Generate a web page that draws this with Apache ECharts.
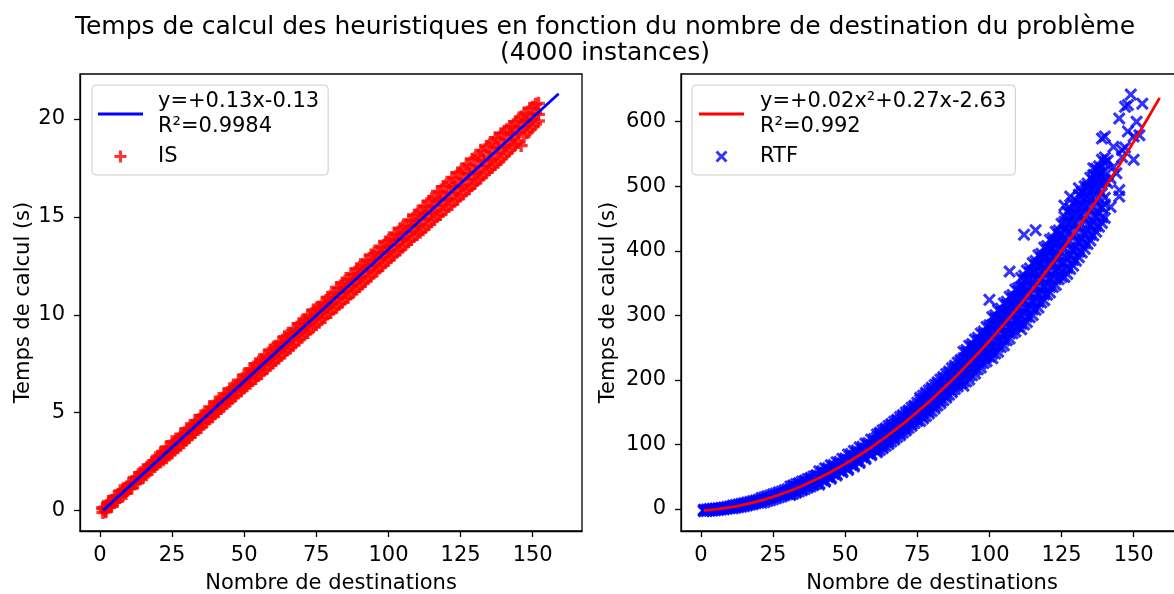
<!DOCTYPE html>
<html><head><meta charset="utf-8">
<script src="https://cdn.jsdelivr.net/npm/echarts@6/dist/echarts.min.js"></script>
<style>html,body{margin:0;padding:0;background:#fff}#c{width:1174px;height:594px}</style>
</head><body><div id="c"></div>
<script>
// ---- tick labels ----
const xTicks = [0, 25, 50, 75, 100, 125, 150];
const isYTicks = [0, 5, 10, 15, 20];
const rtfYTicks = [0, 100, 200, 300, 400, 500, 600];

// ---- number of destinations (x) ----
const nDest = [1,2,3,4,5,6,7,8,9,10,11,12,13,14,15,16,17,18,19,20,21,22,23,24,25,26,27,28,29,30,
31,32,33,34,35,36,37,38,39,40,41,42,43,44,45,46,47,48,49,50,51,52,53,54,55,56,57,58,59,60,
61,62,63,64,65,66,67,68,69,70,71,72,73,74,75,76,77,78,79,80,81,82,83,84,85,86,87,88,89,90,
91,92,93,94,95,96,97,98,99,100,101,102,103,104,105,106,107,108,109,110,111,112,113,114,115,116,117,118,119,120,
121,122,123,124,125,126,127,128,129,130,131,132,133,134,135,136,137,138,139,140,141,142,143,144,145,146,147,148,149,150,151,152];

// ---- IS computation times (s), upper / lower / middle of the cloud ----
const isUpper = [0.15,0.19,0.47,0.51,0.72,0.76,1.01,1.07,1.13,1.39,
1.46,1.69,1.70,1.93,2.09,2.12,2.31,2.47,2.55,2.78,
2.95,2.98,3.25,3.21,3.52,3.55,3.63,3.91,3.90,4.18,
4.22,4.35,4.61,4.58,4.85,4.90,5.02,5.30,5.25,5.55,
5.58,5.68,5.97,5.95,6.22,6.28,6.35,6.66,6.62,6.93,
6.98,7.25,7.22,7.50,7.58,7.70,7.95,7.90,8.20,8.28,
8.40,8.60,8.58,8.88,8.95,9.05,9.30,9.25,9.55,9.62,
9.75,9.98,9.92,10.25,10.30,10.40,10.62,10.60,10.90,10.98,
11.10,11.40,11.35,11.62,11.72,11.82,12.10,12.05,12.35,12.42,
12.55,12.80,12.75,13.05,13.12,13.22,13.50,13.42,13.72,13.80,
13.90,14.18,14.10,14.40,14.48,14.58,14.85,14.80,15.08,15.15,
15.30,15.55,15.50,15.80,15.92,16.02,16.30,16.25,16.55,16.62,
16.75,17.02,16.95,17.25,17.30,17.45,17.70,17.62,17.95,18.00,
18.12,18.40,18.32,18.60,18.68,18.80,19.05,18.98,19.25,19.32,
19.45,19.62,19.60,19.85,19.95,20.10,20.30,20.25,20.55,20.60,
20.75,20.80];
const isLower = [-0.10,-0.06,0.22,0.23,0.42,0.48,0.73,0.80,0.88,1.12,
1.15,1.37,1.42,1.64,1.71,1.83,2.04,2.11,2.25,2.42,
2.50,2.60,2.70,2.85,2.96,3.10,3.22,3.35,3.48,3.62,
3.75,3.90,4.00,4.16,4.25,4.43,4.55,4.70,4.80,4.97,
5.06,5.22,5.36,5.48,5.60,5.76,5.88,6.02,6.12,6.28,
6.40,6.50,6.66,6.75,6.92,7.00,7.18,7.28,7.42,7.55,
7.68,7.80,7.94,8.05,8.22,8.32,8.45,8.62,8.72,8.85,
9.02,9.10,9.28,9.40,9.50,9.62,9.80,9.88,10.05,10.12,
10.30,10.40,10.55,10.65,10.82,10.90,11.08,11.20,11.32,11.45,
11.60,11.72,11.88,11.98,12.15,12.25,12.42,12.52,12.68,12.80,
12.95,13.05,13.22,13.32,13.48,13.60,13.75,13.85,14.02,14.12,
14.22,14.35,14.50,14.62,14.78,14.88,15.05,15.12,15.30,15.40,
15.55,15.65,15.82,15.92,16.08,16.18,16.35,16.45,16.62,16.72,
16.90,17.00,17.15,17.28,17.42,17.55,17.68,17.80,17.95,18.10,
18.25,18.40,18.55,18.70,18.82,18.65,19.10,19.30,19.45,19.60,
19.75,19.90];
const isMid = [0.10,-0.01,0.37,0.36,0.44,0.73,0.71,1.05,1.03,1.17,
1.40,1.39,1.72,1.71,1.84,2.08,2.11,2.39,2.38,2.51,
2.80,2.73,3.02,3.05,3.14,3.47,3.41,3.74,3.73,3.81,
4.15,4.08,4.42,4.40,4.48,4.82,4.75,5.09,5.07,5.16,
5.49,5.43,5.76,5.75,5.83,6.17,6.10,6.44,6.42,6.51,
6.84,6.77,7.11,7.09,7.18,7.51,7.45,7.78,7.77,7.85,
8.19,8.12,8.46,8.44,8.53,8.86,8.79,9.13,9.11,9.20,
9.53,9.47,9.80,9.79,9.87,10.21,10.14,10.48,10.46,10.55,
10.88,10.82,11.15,11.13,11.22,11.55,11.49,11.82,11.81,11.89,
12.23,12.16,12.50,12.48,12.57,12.90,12.84,13.17,13.16,13.24,
13.57,13.51,13.84,13.83,13.91,14.25,14.18,14.52,14.50,14.59,
14.92,14.86,15.19,15.18,15.26,15.60,15.53,15.86,15.85,15.93,
16.27,16.20,16.54,16.52,16.61,16.94,16.88,17.21,17.20,17.28,
17.62,17.55,17.89,17.87,17.95,18.29,18.22,18.56,18.54,18.63,
18.96,18.90,19.23,19.22,19.30,19.64,19.57,19.91,19.89,19.98,
20.31,20.24];

// ---- IS linear fit ----
const isFitX = [1, 159];
const isFitY = [0.00, 21.29];

// ---- RTF computation times (s), x = 1..140 ----
const rtfUpper = [-1.0,-0.8,-0.2,0.3,0.6,1.2,1.7,2.5,3.0,3.9,
5.4,6.2,6.9,8.0,8.9,10.0,10.9,12.2,13.2,14.5,
17.1,18.2,19.9,21.0,22.7,24.0,25.8,27.1,29.0,30.5,
35.0,36.2,38.6,39.8,42.4,43.8,46.3,47.9,50.5,52.2,
58.5,55.8,63.0,60.4,67.7,65.2,72.6,70.2,77.7,75.4,
84.5,81.7,90.0,87.3,95.6,93.0,101.5,98.9,107.5,105.0,
115.5,112.3,122.0,118.8,128.6,125.5,135.4,132.4,142.4,139.4,
149.6,146.7,157.0,154.1,164.5,164.2,175.5,172.0,183.8,180.0,
192.0,188.2,200.6,196.6,209.2,205.1,218.0,213.9,227.0,222.8,
243.5,235.5,253.0,244.8,262.5,254.3,272.0,264.0,282.0,273.9,
297.5,286.9,308.0,297.2,318.5,307.7,329.0,318.3,340.0,329.1,
358.0,344.7,369.5,355.9,381.0,367.3,393.0,378.8,405.0,390.6,
417.0,402.6,429.5,414.7,442.0,432.1,460.5,444.6,473.5,457.3,
487.0,470.2,500.0,483.3,513.0,496.6,527.0,510.1,541.0,523.7];
const rtfLower = [-3.6,-3.2,-2.9,-2.5,-2.0,-1.5,-0.9,-0.3,0.4,1.0,
1.0,1.8,2.6,3.6,4.4,5.5,6.5,7.5,8.8,9.8,
9.6,11.0,12.3,13.6,15.0,16.5,18.0,19.5,21.2,22.8,
21.8,23.8,25.5,27.3,29.2,31.0,33.2,35.0,37.2,39.1,
37.9,44.8,42.3,49.4,47.0,54.2,51.8,59.2,56.8,64.4,
60.3,68.7,65.8,74.3,71.4,80.0,77.3,85.9,83.3,92.0,
87.8,97.3,94.2,103.8,100.8,110.5,107.5,117.4,114.4,124.4,
121.5,131.7,128.8,139.1,136.2,144.2,140.2,152.0,148.0,160.0,
155.8,168.2,164.0,176.6,172.3,185.1,181.0,193.9,189.7,202.8,
191.0,208.5,200.5,217.8,209.8,227.3,219.3,237.0,229.0,246.9,
233.5,253.9,243.5,264.2,253.5,274.7,264.0,285.3,275.0,296.1,
278.5,302.7,289.5,313.9,300.5,325.3,312.0,336.8,323.5,348.6,
335.5,360.6,347.0,372.7,359.5,380.1,364.0,392.6,377.0,405.3,
390.0,418.2,403.0,431.3,416.0,444.6,429.5,458.1,443.0,471.7];
const rtfMid = [-2.2,-2.3,-1.4,-1.3,-0.4,-0.3,0.7,0.9,2.0,2.2,
3.6,3.8,5.3,5.5,7.1,7.5,9.2,9.6,11.4,12.0,
14.0,14.4,16.6,17.1,19.5,20.0,22.4,23.0,25.6,26.3,
29.4,29.6,33.0,33.3,36.8,37.0,40.8,41.1,44.9,45.3,
49.6,49.8,54.2,54.3,59.0,59.1,63.9,64.0,69.0,69.2,
74.5,74.6,80.0,80.1,85.7,85.8,91.5,91.7,97.5,97.8,
104.0,104.0,110.5,110.5,117.0,117.1,124.0,124.0,131.0,131.0,
138.2,138.2,145.6,145.5,153.2,157.5,157.0,165.5,165.0,173.6,
173.0,181.8,181.3,190.3,189.8,199.0,198.4,207.9,207.2,216.9,
222.0,221.0,231.5,230.2,241.0,239.8,250.8,249.4,260.6,259.3,
271.5,269.3,282.0,279.5,292.5,290.0,303.2,300.5,314.0,311.3,
326.5,322.3,337.8,333.4,349.0,344.8,360.5,356.3,372.0,368.1,
384.0,380.0,396.0,392.2,408.3,416.5,410.6,429.0,423.2,441.8,
436.0,454.7,449.0,467.8,462.2,481.1,475.5,494.6,489.1,508.2];
// extra in-between points of the dense part, x = 31..140
const rtfQ1 = [30.5,35.5,34.1,39.1,37.8,43.0,41.8,47.0,45.9,51.2,
51.4,58.6,55.9,63.2,60.6,68.0,65.5,73.0,70.6,78.2,
76.4,85.0,81.9,90.6,87.5,96.3,93.3,102.2,99.4,108.3,
106.2,116.1,112.6,122.6,119.1,129.3,125.9,136.2,132.9,143.2,
140.0,150.5,147.3,157.9,154.9,169.2,164.1,177.0,172.0,185.0,
180.1,193.2,188.4,201.6,196.8,210.1,205.5,218.9,214.3,227.8,
225.5,242.3,234.7,251.6,244.1,261.1,253.7,270.8,263.5,280.7,
275.3,295.2,285.5,305.5,295.8,316.0,306.4,326.6,317.1,337.4,
330.7,355.2,341.8,366.4,353.1,377.8,364.6,389.3,376.3,401.1,
388.2,413.1,400.2,425.2,412.5,445.1,427.9,457.6,440.5,470.3,
453.3,483.2,466.3,496.3,479.5,509.6,492.9,523.1,506.5,536.7];
const rtfQ3 = [23.1,28.1,26.7,31.7,30.4,35.6,34.4,39.6,38.5,43.8,
39.8,47.0,44.3,51.6,49.0,56.4,53.9,61.4,59.0,66.6,
62.7,71.3,68.2,76.9,73.8,82.6,79.6,88.5,85.7,94.6,
90.4,100.3,96.8,106.8,103.3,113.5,110.1,120.4,117.1,127.4,
124.2,134.7,131.5,142.1,139.1,148.2,143.1,156.0,151.0,164.0,
159.1,172.2,167.4,180.6,175.8,189.1,184.5,197.9,193.3,206.8,
197.1,213.9,206.3,223.2,215.7,232.7,225.3,242.4,235.1,252.3,
240.6,260.5,250.8,270.8,261.1,281.3,271.7,291.9,282.4,302.7,
286.6,311.1,297.7,322.3,309.0,333.7,320.5,345.2,332.2,357.0,
344.1,369.0,356.1,381.1,368.4,390.5,373.3,403.0,385.9,415.7,
398.7,428.6,411.7,441.7,424.9,455.0,438.3,468.5,451.9,482.1];
// more points of the wide part, x = 61..140
const rtfQ5 = [110.7,91.3,117.1,97.8,123.6,104.5,130.4,111.4,137.4,118.4,
144.5,125.7,151.8,133.1,159.4,136.2,170.1,144.0,178.0,152.0,
186.1,160.2,194.4,168.6,202.8,177.1,211.5,185.9,220.3,194.8,
233.6,197.7,242.8,207.0,252.2,216.5,261.8,226.2,271.6,236.1,
285.2,240.7,295.4,251.0,305.7,261.5,316.3,272.1,327.0,282.9,
343.3,285.9,354.4,297.1,365.7,308.5,377.2,320.0,388.9,331.8,
400.8,343.8,412.8,355.9,425.1,359.3,443.5,371.8,456.1,384.5,
468.9,397.4,481.9,410.5,495.1,423.8,508.5,437.3,522.1,450.9];
const rtfQ6 = [94.9,118.3,101.3,124.8,107.9,131.5,114.7,138.4,121.6,145.4,
128.8,152.7,136.1,160.1,143.6,172.2,149.1,180.0,157.0,188.0,
165.1,196.2,173.4,204.6,181.8,213.1,190.5,221.9,199.3,230.8,
205.2,246.3,214.4,255.6,223.8,265.1,233.4,274.8,243.2,284.7,
250.5,300.1,260.7,310.4,271.0,320.9,281.6,331.5,292.3,342.3,
299.2,361.5,310.3,372.7,321.6,384.1,333.1,395.6,344.8,407.4,
356.7,419.4,368.7,431.5,381.0,452.9,388.9,465.4,401.5,478.1,
414.3,491.0,427.3,504.1,440.5,517.4,453.9,530.9,467.5,544.5];
// sparse points and outliers
const rtfExtraX = [100,107,112,116,128,131,136,138,139,140,143,145,146,147,148,149,153,150,152,150,145,142,145,134,141,141,142,143,144,146,147,148,151,137,126];
const rtfExtraY = [324,368,425,432,484,497,528,520,574,577,561,605,556,623,626,642,628,577,579,541,484,468,494,499,505,540,512,530,520,545,560,585,600,515,470];

// ---- RTF quadratic fit ----
const rtfFitX = [1,5,10,15,20,25,30,35,40,45,50,55,60,65,70,75,80,85,90,95,100,105,110,115,120,125,130,135,140,145,150,155,159];
const rtfFitY = [-2.34,-0.69,2.43,6.73,12.21,18.87,26.71,35.73,45.93,57.31,69.87,83.61,98.53,114.63,131.91,150.37,170.01,190.83,212.83,236.01,260.37,285.91,312.63,340.53,369.61,399.87,431.31,463.93,497.73,532.71,568.87,606.21,636.93];

const isFitName = 'y=+0.13x-0.13\nR²=0.9984';
const rtfFitName = 'y=+0.02x²+0.27x-2.63\nR²=0.992';

// ---- build data ----
const isData = [];
nDest.forEach((x, i) => { isData.push([x, isUpper[i]], [x, isLower[i]], [x, isMid[i]]); });
const rtfData = [];
rtfUpper.forEach((y, i) => { rtfData.push([nDest[i], y], [nDest[i], rtfLower[i]], [nDest[i], rtfMid[i]]); });
rtfQ1.forEach((y, i) => { rtfData.push([nDest[30 + i], y], [nDest[30 + i], rtfQ3[i]]); });
rtfQ5.forEach((y, i) => { rtfData.push([nDest[60 + i], y], [nDest[60 + i], rtfQ6[i]]); });
rtfExtraX.forEach((x, i) => rtfData.push([x, rtfExtraY[i]]));
const isFit = isFitX.map((x, i) => [x, isFitY[i]]);
const rtfFit = rtfFitX.map((x, i) => [x, rtfFitY[i]]);

const FONT = 'DejaVu Sans';
const FS = 21;
const PLUS = 'path://M3.7,0L6.3,0L6.3,3.7L10,3.7L10,6.3L6.3,6.3L6.3,10L3.7,10L3.7,6.3L0,6.3L0,3.7L3.7,3.7Z';
const CROSS = 'path://M0,1.7L1.7,0L5,3.3L8.3,0L10,1.7L6.7,5L10,8.3L8.3,10L5,6.7L1.7,10L0,8.3L3.3,5Z';
const LINEICON = 'path://M0,0L45,0L45,2.8L0,2.8Z';

function xAxisDef(gi) {
  return {
    gridIndex: gi, type: 'value', min: -6.93, max: 167.1,
    axisLine: { show: true, onZero: false, lineStyle: { color: '#000', width: 1.3 } },
    axisTick: { show: true, length: 6, customValues: xTicks, lineStyle: { color: '#000', width: 1.3 } },
    axisLabel: { customValues: xTicks, color: '#000', fontSize: FS, fontFamily: FONT, margin: 14 },
    splitLine: { show: false },
    name: 'Nombre de destinations', nameLocation: 'middle', nameGap: 42,
    nameTextStyle: { color: '#000', fontSize: FS, fontFamily: FONT }
  };
}
function yAxisDef(gi, min, max, ticks, gap) {
  return {
    gridIndex: gi, type: 'value', min: min, max: max,
    axisLine: { show: true, onZero: false, lineStyle: { color: '#000', width: 1.3 } },
    axisTick: { show: true, length: 6, customValues: ticks, lineStyle: { color: '#000', width: 1.3 } },
    axisLabel: { customValues: ticks, color: '#000', fontSize: FS, fontFamily: FONT, margin: 15 },
    splitLine: { show: false },
    name: 'Temps de calcul (s)', nameLocation: 'middle', nameGap: gap,
    nameTextStyle: { color: '#000', fontSize: FS, fontFamily: FONT }
  };
}
function legendDef(left, names, padL, textPad) {
  return {
    left: left, top: 85, orient: 'vertical',
    data: [{ name: names[0], icon: LINEICON }, { name: names[1] }],
    itemWidth: 45, itemHeight: 12, itemGap: 5,
    padding: [4, 9, 6, padL],
    backgroundColor: 'rgba(255,255,255,0.8)', borderColor: '#cccccc', borderWidth: 1, borderRadius: 4,
    textStyle: { color: '#000', fontSize: FS, fontFamily: FONT, lineHeight: 25, padding: [0, 0, 0, textPad] },
    selectedMode: false
  };
}
function gridDef(left) {
  return { left: left, top: 74, width: 502, height: 457, outerBoundsMode: 'none', containLabel: false,
    show: true, borderColor: '#000', borderWidth: 1.3, backgroundColor: 'transparent' };
}

const chart = echarts.init(document.getElementById('c'), null, { renderer: 'canvas' });
chart.setOption({
  animation: false,
  backgroundColor: '#fff',
  title: {
    text: 'Temps de calcul des heuristiques en fonction du nombre de destination du problème\n(4000 instances)',
    left: 600, top: 9, textAlign: 'center',
    textStyle: { color: '#000', fontSize: 25, fontWeight: 'normal', fontFamily: FONT, lineHeight: 26 }
  },
  grid: [gridDef(80), gridDef(681)],
  xAxis: [xAxisDef(0), xAxisDef(1)],
  yAxis: [yAxisDef(0, -1.04, 22.3, isYTicks, 46), yAxisDef(1, -34.1, 673.9, rtfYTicks, 62)],
  legend: [legendDef(92, [isFitName, 'IS'], 6, 10), legendDef(692, [rtfFitName, 'RTF'], 7, 11)],
  series: [
    { name: 'IS', type: 'scatter', xAxisIndex: 0, yAxisIndex: 0, data: isData,
      symbol: PLUS, symbolSize: 13, itemStyle: { color: '#ff0000', opacity: 0.8 }, z: 2 },
    { name: isFitName, type: 'line', xAxisIndex: 0, yAxisIndex: 0, data: isFit,
      symbol: 'none', lineStyle: { color: '#0000ff', width: 2.8 }, itemStyle: { color: '#0000ff' }, z: 3 },
    { name: 'RTF', type: 'scatter', xAxisIndex: 1, yAxisIndex: 1, data: rtfData,
      symbol: CROSS, symbolSize: 13, itemStyle: { color: '#0000ff', opacity: 0.8 }, z: 2 },
    { name: rtfFitName, type: 'line', xAxisIndex: 1, yAxisIndex: 1, data: rtfFit, smooth: 0.3,
      symbol: 'none', lineStyle: { color: '#ff0000', width: 2.8 }, itemStyle: { color: '#ff0000' }, z: 3 }
  ]
});
</script></body></html>
